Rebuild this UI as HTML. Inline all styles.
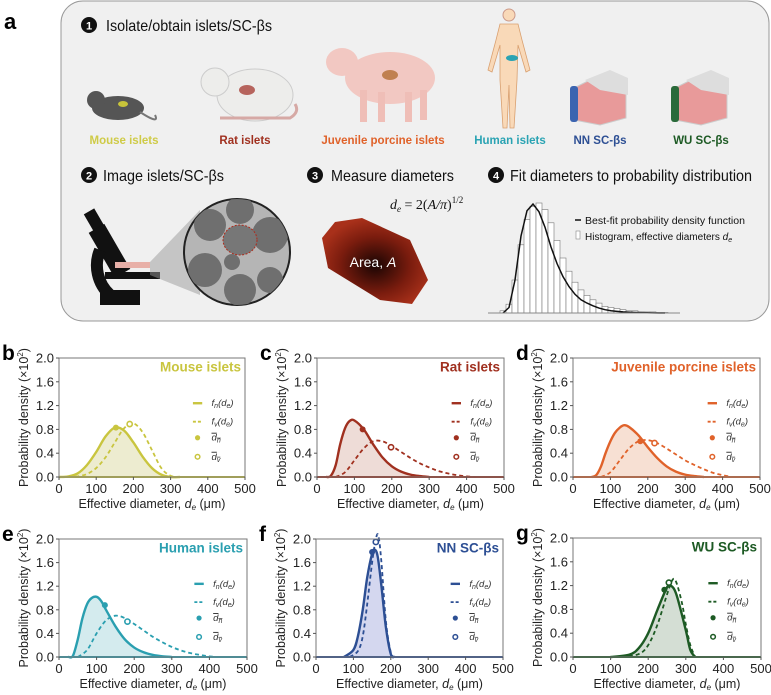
<!DOCTYPE html>
<html><head><meta charset="utf-8"><style>
body{margin:0;background:#fff;}
svg{display:block;font-family:"Liberation Sans",Arial,sans-serif;}
</style></head><body>
<svg id="fig" width="771" height="695" viewBox="0 0 771 695" xmlns="http://www.w3.org/2000/svg">
<defs>
<radialGradient id="blobg" cx="0.5" cy="0.55" r="0.55"><stop offset="0" stop-color="#1a0503"/><stop offset="0.6" stop-color="#7a1c0e"/><stop offset="1" stop-color="#a8301a"/></radialGradient>
<clipPath id="circClip"><circle cx="237" cy="252" r="53"/></clipPath>
</defs>
<g>
<text x="4" y="29" font-size="22" font-weight="bold">a</text>
<rect x="61" y="1" width="708" height="320" rx="22" fill="#f0f0f0" stroke="#999" stroke-width="1"/>
<g>
<circle cx="89" cy="25" r="8" fill="#111"/><text x="89" y="29.5" font-size="11" font-weight="bold" fill="#fff" text-anchor="middle">1</text>
<text x="106" y="31" font-size="16" fill="#111" textLength="166" lengthAdjust="spacingAndGlyphs">Isolate/obtain islets/SC-βs</text></g>
<g><ellipse cx="118" cy="108" rx="26" ry="12" fill="#555"/><circle cx="96" cy="100" r="9" fill="#555"/><path d="M140 112 Q160 125 155 115" stroke="#777" fill="none" stroke-width="2"/><ellipse cx="123" cy="104" rx="5" ry="3" fill="#c8c43a"/></g>
<g><ellipse cx="255" cy="95" rx="38" ry="26" fill="#ededeb" stroke="#ccc"/><circle cx="215" cy="82" r="14" fill="#ededeb" stroke="#ccc"/><path d="M220 118 L290 118 Q300 112 295 104" stroke="#d6a9a5" fill="none" stroke-width="3"/><ellipse cx="247" cy="90" rx="8" ry="5" fill="#b6645d"/></g>
<g><ellipse cx="390" cy="78" rx="45" ry="26" fill="#f2c8c2"/><ellipse cx="342" cy="62" rx="16" ry="14" fill="#f2c8c2"/><rect x="360" y="90" width="7" height="32" fill="#efbeb7"/><rect x="378" y="92" width="7" height="30" fill="#efbeb7"/><rect x="405" y="92" width="7" height="30" fill="#efbeb7"/><rect x="420" y="90" width="7" height="30" fill="#efbeb7"/><ellipse cx="390" cy="75" rx="8" ry="5" fill="#c08050"/></g>
<g><circle cx="509" cy="15" r="6" fill="#f9d9b8" stroke="#c98"/><path d="M500 24 L518 24 L522 40 L530 70 L526 72 L518 45 L517 80 L514 128 L510 128 L509 85 L507 128 L503 128 L500 80 L500 45 L492 72 L488 70 L496 40 Z" fill="#f9d9b8" stroke="#d9a070" stroke-width="0.8"/><ellipse cx="512" cy="58" rx="6" ry="3" fill="#2aa3b3"/></g>
<g><path d="M574 88 L600 75 L626 82 L626 118 L600 125 L574 120 Z" fill="#e89a9a" stroke="#ccc"/><path d="M585 80 L610 70 L628 78 L628 95 L600 90 Z" fill="#ddd"/><rect x="570" y="86" width="8" height="36" rx="3" fill="#3b64b0"/></g>
<g><path d="M675 88 L701 75 L727 82 L727 118 L701 125 L675 120 Z" fill="#e89a9a" stroke="#ccc"/><path d="M686 80 L711 70 L729 78 L729 95 L701 90 Z" fill="#ddd"/><rect x="671" y="86" width="8" height="36" rx="3" fill="#2a6a3a"/></g>
<g font-size="11.5" font-weight="bold" text-anchor="middle">
<text x="124" y="144" fill="#cfcb47">Mouse islets</text>
<text x="245" y="144" fill="#a0301f">Rat islets</text>
<text x="383" y="144" fill="#e0622a">Juvenile porcine islets</text>
<text x="510" y="144" fill="#2aa3b3">Human islets</text>
<text x="600" y="144" fill="#2d4f94">NN SC-βs</text>
<text x="701" y="144" fill="#1d5a24">WU SC-βs</text></g>
<g><circle cx="89" cy="175" r="8" fill="#111"/><text x="89" y="179.5" font-size="11" font-weight="bold" fill="#fff" text-anchor="middle">2</text><text x="103" y="181" font-size="16" fill="#111" textLength="121" lengthAdjust="spacingAndGlyphs">Image islets/SC-βs</text></g>
<g><circle cx="315" cy="175" r="8" fill="#111"/><text x="315" y="179.5" font-size="11" font-weight="bold" fill="#fff" text-anchor="middle">3</text><text x="331" y="181" font-size="16" fill="#111" textLength="123" lengthAdjust="spacingAndGlyphs">Measure diameters</text></g>
<g><circle cx="496" cy="175" r="8" fill="#111"/><text x="496" y="179.5" font-size="11" font-weight="bold" fill="#fff" text-anchor="middle">4</text><text x="510" y="181" font-size="16" fill="#111" textLength="242" lengthAdjust="spacingAndGlyphs">Fit diameters to probability distribution</text></g>
<g><rect x="88" y="210" width="12" height="20" fill="#111" transform="rotate(-30 94 220)"/><rect x="100" y="225" width="18" height="52" fill="#111" transform="rotate(-30 109 250)"/><path d="M100 250 A40 40 0 0 0 110 295" stroke="#111" stroke-width="12" fill="none"/><rect x="105" y="272" width="55" height="7" fill="#111"/><rect x="100" y="290" width="40" height="15" fill="#111"/><rect x="115" y="262" width="35" height="6" fill="#e8b0a8"/><path d="M150 262 L200 210 L200 295 L150 275 Z" fill="#999" opacity="0.5"/></g>
<g><circle cx="237" cy="252" r="53" fill="#b5b5b5" stroke="#222" stroke-width="2"/><g clip-path="url(#circClip)" fill="#6f6f6f"><circle cx="210" cy="225" r="16"/><circle cx="240" cy="210" r="14"/><circle cx="270" cy="235" r="18"/><circle cx="205" cy="270" r="17"/><circle cx="240" cy="290" r="16"/><circle cx="270" cy="280" r="13"/><circle cx="232" cy="262" r="8"/><ellipse cx="240" cy="240" rx="17" ry="15" fill="#777" stroke="#b02a1a" stroke-dasharray="2,1.5"/></g></g>
<text x="390" y="209" font-size="14" font-family="Liberation Serif,serif" font-style="italic" fill="#111">d<tspan font-size="9" dy="3">e</tspan><tspan dy="-3" font-style="normal"> = 2(</tspan>A/π<tspan font-style="normal">)</tspan><tspan font-size="9" dy="-6" font-style="normal">1/2</tspan></text>
<path d="M335 222 L362 218 L410 240 L428 280 L412 304 L380 300 L328 268 L322 238 Z" fill="url(#blobg)"/>
<text x="373" y="267" font-size="14" fill="#fff" text-anchor="middle">Area, <tspan font-style="italic">A</tspan></text>
<g id="histo"></g>
<g><line x1="575" y1="220" x2="581" y2="220" stroke="#111" stroke-width="1.5"/><text x="585" y="224" font-size="10" fill="#111" textLength="160" lengthAdjust="spacingAndGlyphs">Best-fit probability density function</text><rect x="576" y="231" width="4" height="8" fill="#fff" stroke="#888" stroke-width="0.6"/><text x="585" y="240" font-size="10" fill="#111">Histogram, effective diameters <tspan font-style="italic">d</tspan><tspan font-size="7" dy="2" font-style="italic">e</tspan></text></g>
</g>
<g id="charts"></g>
</svg>
<script>
const histBins = [0.02,0.08,0.3,0.62,0.85,0.97,1.0,0.94,0.82,0.66,0.5,0.38,0.28,0.21,0.16,0.12,0.09,0.06,0.05,0.04,0.03,0.02,0.02,0.01,0.01,0.01,0.005,0.005];
const histFit = [0,0.05,0.3,0.7,0.93,0.99,0.92,0.78,0.6,0.45,0.33,0.24,0.17,0.12,0.09,0.065,0.045,0.03,0.02,0.015,0.01,0.007,0.005,0.003,0.002,0.001,0,0];
(function(){
  const g=document.getElementById('histo'), NS='http://www.w3.org/2000/svg';
  const x0=500,bw=6,yb=313,h=110;
  histBins.forEach((v,i)=>{
    const r=document.createElementNS(NS,'rect');
    r.setAttribute('x',x0+i*bw);r.setAttribute('y',yb-v*h);r.setAttribute('width',bw);r.setAttribute('height',v*h);
    r.setAttribute('fill','#fff');r.setAttribute('stroke','#777');r.setAttribute('stroke-width','0.6');
    
    
    g.appendChild(r);
  });
  let d='';histFit.forEach((v,i)=>{d+=(i?'L':'M')+(x0+i*bw+bw/2)+' '+(yb-v*h)+' ';});
  const p=document.createElementNS(NS,'path');p.setAttribute('d',d);p.setAttribute('fill','none');p.setAttribute('stroke','#111');p.setAttribute('stroke-width','1.5');
  
  
  g.appendChild(p);
  const l=document.createElementNS(NS,'line');l.setAttribute('x1',488);l.setAttribute('x2',680);l.setAttribute('y1',yb);l.setAttribute('y2',yb);l.setAttribute('stroke','#888');
  
  
  g.appendChild(l);
})();

const xTicks = [0,100,200,300,400,500];
const yTicks = [0.0,0.4,0.8,1.2,1.6,2.0];
const yTickLabels = ['0.0','0.4','0.8','1.2','1.6','2.0'];
const xTickLabels = ['0','100','200','300','400','500'];

const mouseFnX = [0,25,50,75,100,125,150,175,200,225,250,275,300,325];
const mouseFnY = [0,0.01,0.06,0.2,0.42,0.68,0.83,0.78,0.58,0.34,0.15,0.04,0,0];
const mouseFvX = [25,50,75,100,125,150,175,200,225,250,275,300,325];
const mouseFvY = [0,0.01,0.05,0.15,0.33,0.58,0.82,0.9,0.75,0.45,0.15,0.02,0];
const mouseMeans = [[153,0.83],[190,0.89]];

const ratFnX = [25,37,50,62,75,87,100,125,150,175,200,225,250,275,300];
const ratFnY = [0,0.02,0.2,0.55,0.82,0.94,0.95,0.8,0.55,0.33,0.18,0.09,0.04,0.015,0];
const ratFvX = [50,75,100,125,150,175,200,225,250,275,300,325,350,375,400,425];
const ratFvY = [0,0.08,0.28,0.48,0.6,0.6,0.52,0.42,0.32,0.23,0.16,0.1,0.06,0.03,0.01,0];
const ratMeans = [[122,0.8],[198,0.5]];

const porFnX = [50,62,75,87,100,112,125,137,150,175,200,225,250,275,300,325,350];
const porFnY = [0,0.03,0.18,0.4,0.6,0.74,0.83,0.87,0.84,0.7,0.5,0.32,0.18,0.09,0.04,0.015,0];
const porFvX = [75,100,125,150,175,200,225,250,275,300,325,350,375,400,425];
const porFvY = [0,0.08,0.28,0.48,0.6,0.62,0.57,0.48,0.38,0.28,0.2,0.13,0.07,0.03,0];
const porMeans = [[180,0.6],[218,0.57]];

const humFnX = [25,37,50,62,75,87,100,112,125,150,175,200,225,250,275,300];
const humFnY = [0,0.02,0.3,0.65,0.9,1.0,1.02,0.95,0.8,0.52,0.3,0.16,0.08,0.035,0.012,0];
const humFvX = [50,75,100,125,150,175,200,225,250,275,300,325,350,375,400,425];
const humFvY = [0,0.12,0.4,0.62,0.7,0.66,0.56,0.45,0.34,0.25,0.17,0.11,0.065,0.035,0.01,0];
const humMeans = [[122,0.88],[182,0.6]];

const nnFnX = [75,100,112,125,137,150,157,165,175,187,200,210];
const nnFnY = [0,0.12,0.35,0.8,1.35,1.75,1.82,1.7,1.2,0.5,0.05,0];
const nnFvX = [90,112,125,137,150,160,167,175,187,200,210];
const nnFvY = [0,0.1,0.35,0.9,1.6,2.0,2.05,1.6,0.6,0.08,0];
const nnMeans = [[150,1.78],[160,1.95]];

const wuFnX = [100,150,175,200,225,250,260,275,300,312,325];
const wuFnY = [0,0.04,0.15,0.4,0.8,1.17,1.2,1.05,0.45,0.12,0];
const wuFvX = [130,175,200,225,250,265,275,290,300,312,325];
const wuFvY = [0,0.05,0.2,0.55,1.05,1.3,1.25,0.9,0.55,0.2,0];
const wuMeans = [[243,1.13],[255,1.25]];

const panels = [
 {id:'b',title:'Mouse islets',color:'#c9c53f',fill:'#e9e7c4',x0:59,x1:245,yt:358,yb:477,fnX:mouseFnX,fnY:mouseFnY,fvX:mouseFvX,fvY:mouseFvY,means:mouseMeans},
 {id:'c',title:'Rat islets',color:'#a0301f',fill:'#ead3cd',x0:317,x1:504,yt:358,yb:477,fnX:ratFnX,fnY:ratFnY,fvX:ratFvX,fvY:ratFvY,means:ratMeans},
 {id:'d',title:'Juvenile porcine islets',color:'#e0622a',fill:'#f5d8c8',x0:573,x1:760,yt:358,yb:477,fnX:porFnX,fnY:porFnY,fvX:porFvX,fvY:porFvY,means:porMeans},
 {id:'e',title:'Human islets',color:'#2a9fb0',fill:'#c9e6ea',x0:59,x1:247,yt:539,yb:657,fnX:humFnX,fnY:humFnY,fvX:humFvX,fvY:humFvY,means:humMeans},
 {id:'f',title:'NN SC-βs',color:'#2d4f94',fill:'#c9cdeb',x0:316,x1:503,yt:539,yb:657,fnX:nnFnX,fnY:nnFnY,fvX:nnFvX,fvY:nnFvY,means:nnMeans},
 {id:'g',title:'WU SC-βs',color:'#1d5a24',fill:'#c9d6c9',x0:573,x1:761,yt:538,yb:657,fnX:wuFnX,fnY:wuFnY,fvX:wuFvX,fvY:wuFvY,means:wuMeans}
];

const NS='http://www.w3.org/2000/svg';
const root=document.getElementById('charts');
function mk(tag,attrs,parent,txt){const e=document.createElementNS(NS,tag);for(const k in attrs)e.setAttribute(k,attrs[k]);if(txt!==undefined)e.textContent=txt;parent.appendChild(e);return e;}
function smoothPath(pts){
  let d='M'+pts[0][0]+' '+pts[0][1];
  for(let i=0;i<pts.length-1;i++){
    const p0=pts[Math.max(i-1,0)],p1=pts[i],p2=pts[i+1],p3=pts[Math.min(i+2,pts.length-1)];
    const c1=[p1[0]+(p2[0]-p0[0])/6,p1[1]+(p2[1]-p0[1])/6];
    const c2=[p2[0]-(p3[0]-p1[0])/6,p2[1]-(p3[1]-p1[1])/6];
    d+=' C'+c1[0]+' '+c1[1]+' '+c2[0]+' '+c2[1]+' '+p2[0]+' '+p2[1];
  }
  return d;
}
panels.forEach(P=>{
  const g=mk('g',{},root);
  
  
  const xs=v=>P.x0+v/500*(P.x1-P.x0);
  const ys=v=>P.yb-v/2*(P.yb-P.yt);
  const lab=mk('text',{x:P.x0-57,y:P.yt+2,'font-size':21,'font-weight':'bold',fill:'#000'},g,P.id);
  
  
  const fnPts=P.fnX.map((x,i)=>[xs(x),ys(P.fnY[i])]);
  const fvPts=P.fvX.map((x,i)=>[xs(x),ys(P.fvY[i])]);
  const area=mk('path',{d:smoothPath(fnPts)+' L'+fnPts[fnPts.length-1][0]+' '+P.yb+' L'+fnPts[0][0]+' '+P.yb+' Z',fill:P.fill,opacity:0.8},g);
  
  
  const bl=mk('line',{x1:P.x0,x2:P.x1,y1:P.yb,y2:P.yb,stroke:P.color,'stroke-width':2},g);
  
  
  const fv=mk('path',{d:smoothPath(fvPts),fill:'none',stroke:P.color,'stroke-width':1.8,'stroke-dasharray':'4,3'},g);
  
  
  const fn=mk('path',{d:smoothPath(fnPts),fill:'none',stroke:P.color,'stroke-width':2.4},g);
  
  
  const m1=mk('circle',{cx:xs(P.means[0][0]),cy:ys(P.means[0][1]),r:3,fill:P.color},g);
  
  
  const m2=mk('circle',{cx:xs(P.means[1][0]),cy:ys(P.means[1][1]),r:2.6,fill:'#fff',stroke:P.color,'stroke-width':1.6},g);
  
  
  const fr=mk('rect',{x:P.x0,y:P.yt,width:P.x1-P.x0,height:P.yb-P.yt,fill:'none',stroke:'#777','stroke-width':1},g);
  
  
  yTicks.forEach((v,i)=>{
    const t=mk('line',{x1:P.x0-3,x2:P.x0,y1:ys(v),y2:ys(v),stroke:'#555'},g);
    
    
    const tl=mk('text',{x:P.x0-5,y:ys(v)+4.5,'font-size':13,'text-anchor':'end',fill:'#222'},g,yTickLabels[i]);
    
    
  });
  xTicks.forEach((v,i)=>{
    const t=mk('line',{x1:xs(v),x2:xs(v),y1:P.yb,y2:P.yb+3,stroke:'#555'},g);
    
    
    const tl=mk('text',{x:xs(v),y:P.yb+16,'font-size':13,'text-anchor':'middle',fill:'#222'},g,xTickLabels[i]);
    
    
  });
  const xt=mk('text',{x:(P.x0+P.x1)/2,y:P.yb+31,'font-size':12.5,'text-anchor':'middle',fill:'#222'},g);
  xt.innerHTML='Effective diameter, <tspan font-style="italic">d</tspan><tspan font-style="italic" font-size="8" dy="2">e</tspan><tspan dy="-2"> (μm)</tspan>';
  
  
  const cy=(P.yt+P.yb)/2;
  const yt=mk('text',{x:P.x0-31,y:cy,'font-size':12.5,'text-anchor':'middle',fill:'#222',transform:'rotate(-90 '+(P.x0-31)+' '+cy+')'},g);
  yt.innerHTML='Probability density (×10<tspan font-size="8" dy="-5">2</tspan><tspan dy="5">)</tspan>';
  
  
  const tt=mk('text',{x:P.x1-4,y:ys(1.86)+5,'font-size':13.5,'font-weight':'bold','text-anchor':'end',fill:P.color},g,P.title);
  
  
  const lx=P.x0+(P.x1-P.x0)*0.72, lx2=P.x0+(P.x1-P.x0)*0.77, tx=P.x0+(P.x1-P.x0)*0.82;
  const lg=mk('g',{},g);
  
  
  mk('line',{x1:lx,x2:lx2,y1:ys(1.24),y2:ys(1.24),stroke:P.color,'stroke-width':2.4},lg);
  mk('line',{x1:lx,x2:lx2,y1:ys(0.93),y2:ys(0.93),stroke:P.color,'stroke-width':1.8,'stroke-dasharray':'3,2'},lg);
  mk('circle',{cx:(lx+lx2)/2,cy:ys(0.66),r:2.6,fill:P.color},lg);
  mk('circle',{cx:(lx+lx2)/2,cy:ys(0.34),r:2.3,fill:'#fff',stroke:P.color,'stroke-width':1.5},lg);
  const t1=mk('text',{x:tx,y:ys(1.24)+3,'font-size':9.5,'font-style':'italic',fill:'#333'},lg);t1.innerHTML='f<tspan font-size="7" dy="2">n</tspan><tspan dy="-2">(d</tspan><tspan font-size="7" dy="2">e</tspan><tspan dy="-2">)</tspan>';
  const t2=mk('text',{x:tx,y:ys(0.93)+3,'font-size':9.5,'font-style':'italic',fill:'#333'},lg);t2.innerHTML='f<tspan font-size="7" dy="2">v</tspan><tspan dy="-2">(d</tspan><tspan font-size="7" dy="2">e</tspan><tspan dy="-2">)</tspan>';
  const t3=mk('text',{x:tx,y:ys(0.66)+3,'font-size':9.5,'font-style':'italic',fill:'#333','text-decoration':'overline'},lg);t3.innerHTML='d<tspan font-size="7" dy="2">n</tspan>';
  const t4=mk('text',{x:tx,y:ys(0.34)+3,'font-size':9.5,'font-style':'italic',fill:'#333','text-decoration':'overline'},lg);t4.innerHTML='d<tspan font-size="7" dy="2">v</tspan>';
});
</script>
</body></html>
